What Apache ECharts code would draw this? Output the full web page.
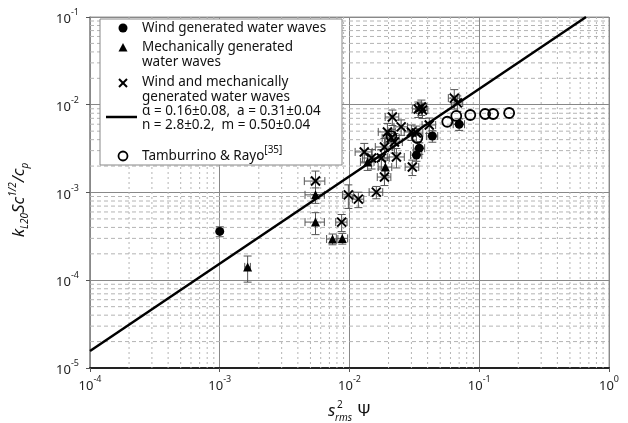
<!DOCTYPE html>
<html><head><meta charset="utf-8">
<script src="https://cdn.jsdelivr.net/npm/echarts@6/dist/echarts.min.js"></script>
<style>html,body{margin:0;padding:0;background:#fff}#c{width:628px;height:423px}</style>
</head><body><div id="c"></div>
<script>
// Axis range (decades)
const xRange = [1e-4, 1];
const yRange = [1e-5, 1e-1];
const xDecades = [1e-4, 1e-3, 1e-2, 1e-1];
const yDecades = [1e-5, 1e-4, 1e-3, 1e-2];
const minorMultipliers = [2, 3, 4, 5, 6, 7, 8, 9];

// [x, y, relative x error, relative y error]
const windWaves = [
  [1.0e-3, 3.6e-4, 0, 0.13],
  [3.28e-2, 2.67e-3, 0.1, 0.15],
  [3.45e-2, 3.2e-3, 0.1, 0.15],
  [4.35e-2, 4.4e-3, 0.1, 0.15],
  [7.0e-2, 6.0e-3, 0.1, 0.15]
];
const mechWaves = [
  [1.64e-3, 1.42e-4, 0.05, 0.33],
  [5.47e-3, 9.4e-4, 0.17, 0.2],
  [5.47e-3, 4.6e-4, 0.17, 0.28],
  [7.4e-3, 2.95e-4, 0.1, 0.14],
  [8.8e-3, 3.0e-4, 0.1, 0.14],
  [1.38e-2, 2.23e-3, 0.12, 0.2],
  [1.89e-2, 1.95e-3, 0.12, 0.2]
];
const windMechWaves = [
  [5.47e-3, 1.35e-3, 0.18, 0.3],
  [8.7e-3, 4.6e-4, 0.1, 0.22],
  [9.8e-3, 9.4e-4, 0.1, 0.3],
  [1.17e-2, 8.4e-4, 0.1, 0.2],
  [1.61e-2, 1.01e-3, 0.12, 0.16],
  [1.86e-2, 1.5e-3, 0.12, 0.2],
  [3.05e-2, 1.95e-3, 0.12, 0.2],
  [1.3e-2, 2.9e-3, 0.15, 0.25],
  [1.48e-2, 2.47e-3, 0.15, 0.25],
  [1.76e-2, 2.47e-3, 0.15, 0.25],
  [2.3e-2, 2.54e-3, 0.15, 0.25],
  [1.86e-2, 3.3e-3, 0.15, 0.25],
  [2.22e-2, 3.76e-3, 0.15, 0.25],
  [1.96e-2, 4.9e-3, 0.15, 0.25],
  [2.1e-2, 4.2e-3, 0.15, 0.25],
  [2.14e-2, 7.25e-3, 0.12, 0.2],
  [2.5e-2, 5.6e-3, 0.12, 0.2],
  [3.0e-2, 4.9e-3, 0.12, 0.2],
  [3.28e-2, 4.76e-3, 0.12, 0.2],
  [4.12e-2, 5.88e-3, 0.12, 0.2],
  [3.39e-2, 8.95e-3, 0.1, 0.2],
  [3.58e-2, 9.42e-3, 0.1, 0.2],
  [3.65e-2, 8.7e-3, 0.1, 0.2],
  [6.42e-2, 1.19e-2, 0.1, 0.25],
  [6.78e-2, 1.05e-2, 0.1, 0.2]
];
const tamburrino = [
  [2.1e-2, 4.4e-3], [3.33e-2, 4.18e-3], [5.67e-2, 6.4e-3], [6.65e-2, 7.45e-3],
  [8.53e-2, 7.64e-3], [0.111, 7.85e-3], [0.128, 7.85e-3], [0.170, 8.05e-3]
];
const fitLine = [[1e-4, 1.56e-5], [0.665, 0.1]];

const legendLabels = {
  wind: 'Wind generated water waves',
  mech: ['Mechanically generated', 'water waves'],
  windMech: ['Wind and mechanically', 'generated water waves'],
  fit: ['\u03b1 = 0.16\u00b10.08,  a = 0.31\u00b10.04', 'n = 2.8\u00b10.2,  m = 0.50\u00b10.04'],
  tam: 'Tamburrino & Rayo',
  tamRef: '[35]'
};

const FONT = '"Noto Sans", "Open Sans", sans-serif';
const xMark = 'path://M0,0L10,10M10,0L0,10';

function minorValues(decades) {
  const out = [];
  decades.forEach(d => minorMultipliers.forEach(m => out.push(+(d * m).toPrecision(3))));
  return out;
}

function expLabel(v) {
  const e = Math.round(Math.log10(v));
  return '{b|10}{s|' + e + '}';
}
const labelRich = {
  b: {fontSize: 13, fontFamily: FONT, color: '#222', lineHeight: 18, verticalAlign: 'bottom'},
  s: {fontSize: 9, fontFamily: FONT, color: '#222', lineHeight: 12, verticalAlign: 'top'}
};

function errRender(params, api) {
  const x = api.value(0), y = api.value(1), xe = api.value(2), ye = api.value(3);
  const c = api.coord([x, y]);
  const st = {stroke: '#555', lineWidth: 1};
  const cap = 4;
  const ch = [];
  if (ye > 0) {
    const t = api.coord([x, y * (1 + ye)]), b = api.coord([x, y * (1 - ye)]);
    ch.push({type: 'line', shape: {x1: c[0], y1: t[1], x2: c[0], y2: b[1]}, style: st});
    ch.push({type: 'line', shape: {x1: c[0] - cap, y1: t[1], x2: c[0] + cap, y2: t[1]}, style: st});
    ch.push({type: 'line', shape: {x1: c[0] - cap, y1: b[1], x2: c[0] + cap, y2: b[1]}, style: st});
  }
  if (xe > 0) {
    const l = api.coord([x * (1 - xe), y]), r = api.coord([x * (1 + xe), y]);
    ch.push({type: 'line', shape: {x1: l[0], y1: c[1], x2: r[0], y2: c[1]}, style: st});
    ch.push({type: 'line', shape: {x1: l[0], y1: c[1] - cap, x2: l[0], y2: c[1] + cap}, style: st});
    ch.push({type: 'line', shape: {x1: r[0], y1: c[1] - cap, x2: r[0], y2: c[1] + cap}, style: st});
  }
  return {type: 'group', children: ch};
}
function errSeries(data) {
  return {type: 'custom', data: data, renderItem: errRender, encode: {x: 0, y: 1}, z: 3, silent: true, clip: true};
}

// minor grid lines drawn through the axis scales
function minorGridSeries(values, vertical) {
  const data = values.map(v => vertical ? [v, 1e-3] : [1e-2, v]);
  return {
    type: 'custom', data: data, encode: {x: 0, y: 1}, z: 1, silent: true,
    renderItem: function (params, api) {
      const p = api.coord([api.value(0), api.value(1)]);
      const cs = params.coordSys;
      const shape = vertical
        ? {x1: p[0], y1: cs.y, x2: p[0], y2: cs.y + cs.height}
        : {x1: cs.x, y1: p[1], x2: cs.x + cs.width, y2: p[1]};
      return {type: 'line', shape: shape,
        style: {stroke: '#b4b4b4', lineWidth: 1, lineDash: vertical ? [2, 3] : [4, 3]}};
    }
  };
}

const chart = echarts.init(document.getElementById('c'), null, {renderer: 'canvas'});

const LFONT = '13.5px ' + FONT;
const legendText = (x, y, t) => ({type: 'text', x: x, y: y, z: 101,
  style: {text: t, font: LFONT, fill: '#111', verticalAlign: 'middle', align: 'left'}});

const option = {
  animation: false,
  backgroundColor: '#fff',
  grid: {left: 90, right: 19, top: 17, bottom: 55, show: true, borderColor: '#999', borderWidth: 1, backgroundColor: 'transparent'},
  xAxis: {
    type: 'log', logBase: 10, min: xRange[0], max: xRange[1], splitNumber: 4,
    axisLine: {show: true, lineStyle: {color: '#222', width: 2}},
    axisTick: {show: true, length: 4, lineStyle: {color: '#555'}},
    splitLine: {show: true, lineStyle: {color: '#888', width: 1}},
    axisLabel: {formatter: expLabel, rich: labelRich, margin: 7}
  },
  yAxis: {
    type: 'log', logBase: 10, min: yRange[0], max: yRange[1], splitNumber: 4,
    axisLine: {show: true, lineStyle: {color: '#888', width: 1.5}},
    axisTick: {show: true, length: 4, lineStyle: {color: '#555'}},
    splitLine: {show: true, lineStyle: {color: '#888', width: 1}},
    axisLabel: {formatter: expLabel, rich: labelRich, margin: 11}
  },
  series: [
    minorGridSeries(minorValues(xDecades), true),
    minorGridSeries(minorValues(yDecades), false),
    {type: 'line', data: fitLine, showSymbol: false, symbol: 'none', z: 4,
     lineStyle: {color: '#000', width: 2.5}},
    errSeries(windWaves), errSeries(mechWaves), errSeries(windMechWaves),
    {type: 'scatter', data: windWaves.map(d => [d[0], d[1]]), symbol: 'circle', symbolSize: 9, z: 5,
     itemStyle: {color: '#000', opacity: 1}},
    {type: 'scatter', data: mechWaves.map(d => [d[0], d[1]]), symbol: 'triangle', symbolSize: 9, z: 5,
     itemStyle: {color: '#000', opacity: 1}},
    {type: 'scatter', data: windMechWaves.map(d => [d[0], d[1]]), symbol: xMark, symbolSize: 9, z: 5,
     itemStyle: {color: 'rgba(0,0,0,0)', borderColor: '#000', borderWidth: 2, opacity: 1}},
    {type: 'scatter', data: tamburrino, symbol: 'circle', symbolSize: 10, z: 5,
     itemStyle: {color: 'rgba(0,0,0,0)', borderColor: '#000', borderWidth: 1.8, opacity: 1}}
  ],
  graphic: [
    {type: 'rect', shape: {x: 100, y: 19, width: 242, height: 146}, z: 100,
     style: {fill: '#fff', stroke: '#888', lineWidth: 1}},
    {type: 'circle', shape: {cx: 123, cy: 28, r: 4.5}, z: 101, style: {fill: '#000'}},
    {type: 'polygon', shape: {points: [[123, 43], [127.5, 51.5], [118.5, 51.5]]}, z: 101, style: {fill: '#000'}},
    {type: 'polyline', shape: {points: [[119, 79], [127, 87]]}, z: 101, style: {stroke: '#000', lineWidth: 2, fill: null}},
    {type: 'polyline', shape: {points: [[127, 79], [119, 87]]}, z: 101, style: {stroke: '#000', lineWidth: 2, fill: null}},
    {type: 'line', shape: {x1: 106, y1: 117, x2: 137, y2: 117}, z: 101, style: {stroke: '#000', lineWidth: 2.5}},
    {type: 'circle', shape: {cx: 123, cy: 156, r: 4.5}, z: 101, style: {fill: 'none', stroke: '#000', lineWidth: 1.8}},
    legendText(142, 28, legendLabels.wind),
    legendText(142, 47, legendLabels.mech[0]),
    legendText(142, 62, legendLabels.mech[1]),
    legendText(142, 82, legendLabels.windMech[0]),
    legendText(142, 97, legendLabels.windMech[1]),
    legendText(142, 111, legendLabels.fit[0]),
    legendText(142, 125, legendLabels.fit[1]),
    {type: 'text', x: 142, y: 154, z: 101,
     style: {text: '{a|' + legendLabels.tam + '}{s|' + legendLabels.tamRef + '}', verticalAlign: 'middle', align: 'left',
       rich: {a: {font: LFONT, fill: '#111', lineHeight: 18, verticalAlign: 'bottom'},
              s: {font: '10px ' + FONT, fill: '#111', lineHeight: 12, verticalAlign: 'top'}}}},
    // x axis title: s^2_rms Psi
    {type: 'text', x: 328, y: 411, z: 101,
     style: {text: 's', font: 'italic 17px ' + FONT, fill: '#111', align: 'left', verticalAlign: 'middle'}},
    {type: 'text', x: 337, y: 405, z: 101,
     style: {text: '2', font: '10px ' + FONT, fill: '#111', align: 'left', verticalAlign: 'middle'}},
    {type: 'text', x: 335, y: 418, z: 101,
     style: {text: 'rms', font: 'italic 10px ' + FONT, fill: '#111', align: 'left', verticalAlign: 'middle'}},
    {type: 'text', x: 357, y: 411, z: 101,
     style: {text: '\u03a8', font: '17px ' + FONT, fill: '#111', align: 'left', verticalAlign: 'middle'}},
    // y axis title
    {type: 'text', x: 19, y: 200, rotation: Math.PI / 2, z: 101,
     style: {text: '{i|k}{u|L20}{i|Sc}{t|1/2}{i|/c}{u|p}', align: 'center', verticalAlign: 'middle',
       rich: {i: {font: 'italic 17px ' + FONT, fill: '#111', lineHeight: 22},
              u: {font: 'italic 10px ' + FONT, fill: '#111', lineHeight: 10, verticalAlign: 'bottom'},
              t: {font: 'italic 10px ' + FONT, fill: '#111', lineHeight: 12, verticalAlign: 'top'}}}}
  ]
};
chart.setOption(option);
</script></body></html>
